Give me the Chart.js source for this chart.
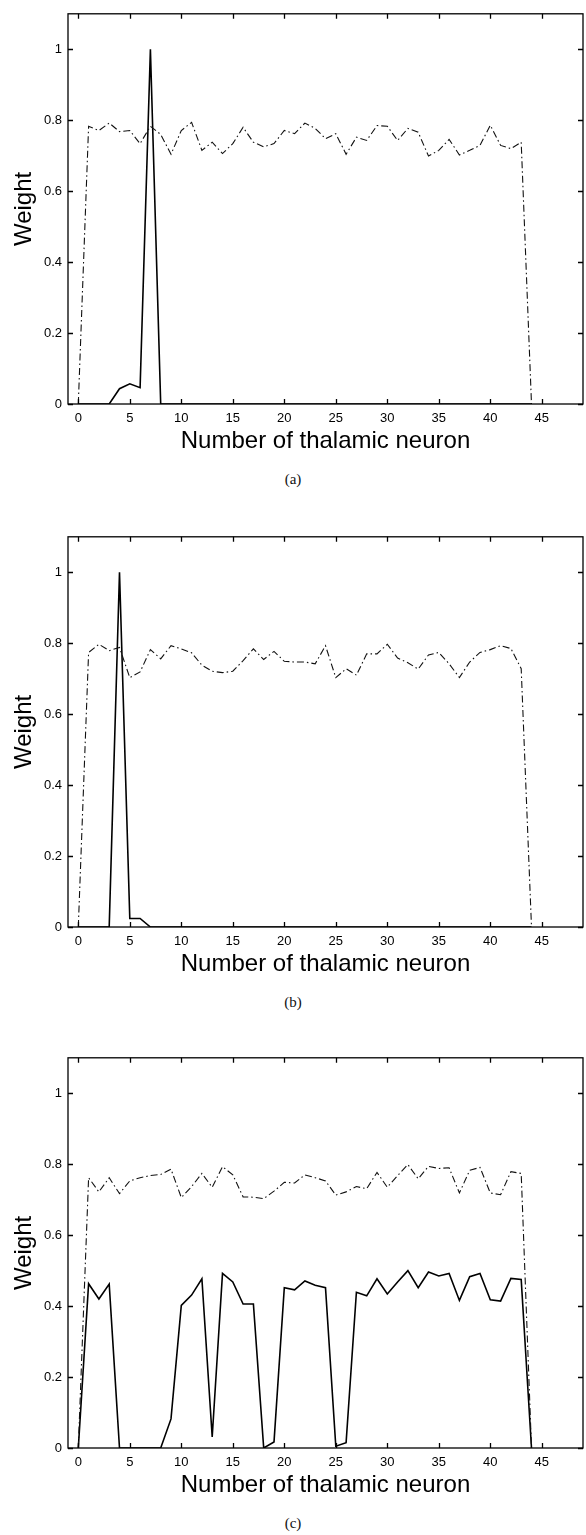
<!DOCTYPE html>
<html>
<head>
<meta charset="utf-8">
<script src="https://cdn.jsdelivr.net/npm/chart.js@4.4.1/dist/chart.umd.min.js"></script>
<style>
  body { margin: 0; background: #fff; }
  #page { position: relative; width: 586px; height: 1535px; overflow: hidden; }
  canvas { position: absolute; left: 0; }
  .cap { position: absolute; left: 0; width: 586px; text-align: center;
         font: 15px "Liberation Serif", "Times New Roman", serif; color: #111; }
</style>
</head>
<body>
<div id="page">
  <canvas id="chartA" width="586" height="460" style="top:0px"></canvas>
  <div class="cap" style="top:471px">(a)</div>
  <canvas id="chartB" width="586" height="460" style="top:523px"></canvas>
  <div class="cap" style="top:994px">(b)</div>
  <canvas id="chartC" width="586" height="460" style="top:1044px"></canvas>
  <div class="cap" style="top:1515px">(c)</div>
</div>
<script>
// thalamic neuron index
var neuron = [0, 1, 2, 3, 4, 5, 6, 7, 8, 9, 10, 11, 12, 13, 14, 15, 16, 17, 18, 19, 20, 21,
  22, 23, 24, 25, 26, 27, 28, 29, 30, 31, 32, 33, 34, 35, 36, 37, 38, 39, 40, 41, 42, 43, 44];

var xTicks = [0, 5, 10, 15, 20, 25, 30, 35, 40, 45];
var yTicks = [0, 0.2, 0.4, 0.6, 0.8, 1];

// (a)
var solidA = [0, 0, 0, 0, 0.043, 0.057, 0.046, 1.0, 0, 0, 0, 0, 0, 0, 0, 0, 0, 0, 0, 0, 0, 0,
  0, 0, 0, 0, 0, 0, 0, 0, 0, 0, 0, 0, 0, 0, 0, 0, 0, 0, 0, 0, 0, 0, 0];
var dashA = [0, 0.783, 0.771, 0.792, 0.768, 0.771, 0.734, 0.783, 0.76, 0.704, 0.771, 0.794,
  0.715, 0.738, 0.706, 0.734, 0.78, 0.738, 0.725, 0.734, 0.771, 0.762, 0.792, 0.777, 0.748,
  0.762, 0.704, 0.752, 0.743, 0.785, 0.783, 0.743, 0.777, 0.766, 0.699, 0.715, 0.746, 0.702,
  0.715, 0.729, 0.786, 0.729, 0.72, 0.738, 0];

// (b)
var solidB = [0, 0, 0, 0, 1.0, 0.024, 0.024, 0, 0, 0, 0, 0, 0, 0, 0, 0, 0, 0, 0, 0, 0, 0,
  0, 0, 0, 0, 0, 0, 0, 0, 0, 0, 0, 0, 0, 0, 0, 0, 0, 0, 0, 0, 0, 0, 0];
var dashB = [0, 0.774, 0.797, 0.779, 0.788, 0.703, 0.719, 0.782, 0.756, 0.793, 0.784, 0.773,
  0.738, 0.721, 0.717, 0.721, 0.751, 0.784, 0.754, 0.777, 0.749, 0.747, 0.747, 0.742, 0.793,
  0.703, 0.728, 0.71, 0.77, 0.77, 0.797, 0.758, 0.745, 0.727, 0.767, 0.774, 0.742, 0.703,
  0.747, 0.774, 0.782, 0.793, 0.785, 0.728, 0];

// (c)
var solidC = [0, 0.463, 0.42, 0.462, 0, 0, 0, 0, 0, 0.082, 0.402, 0.431, 0.477, 0.031, 0.492,
  0.468, 0.406, 0.406, 0, 0.017, 0.452, 0.446, 0.471, 0.459, 0.452, 0.005, 0.015, 0.439, 0.429,
  0.477, 0.434, 0.468, 0.5, 0.452, 0.496, 0.485, 0.492, 0.416, 0.483, 0.492, 0.418, 0.414,
  0.478, 0.475, 0];
var dashC = [0, 0.762, 0.722, 0.762, 0.717, 0.753, 0.762, 0.768, 0.771, 0.786, 0.706, 0.737,
  0.774, 0.735, 0.793, 0.77, 0.708, 0.707, 0.703, 0.724, 0.749, 0.747, 0.77, 0.762, 0.753,
  0.713, 0.722, 0.737, 0.731, 0.777, 0.735, 0.768, 0.799, 0.759, 0.794, 0.788, 0.79, 0.719,
  0.783, 0.791, 0.719, 0.714, 0.779, 0.774, 0];

var axisFont = { family: '"Liberation Sans", Arial, Helvetica, sans-serif', size: 13 };
var titleFont = { family: '"Liberation Sans", Arial, Helvetica, sans-serif', size: 24 };

// box around the plot with inward ticks on all four sides
var frameTicks = {
  id: 'frameTicks',
  afterDatasetsDraw: function (chart) {
    var ctx = chart.ctx, a = chart.chartArea;
    var x = chart.scales.x, y = chart.scales.y;
    ctx.save();
    ctx.strokeStyle = '#000';
    ctx.lineWidth = 1.3;
    ctx.strokeRect(a.left, a.top, a.right - a.left, a.bottom - a.top);
    ctx.beginPath();
    xTicks.forEach(function (v) {
      var px = Math.round(x.getPixelForValue(v)) + 0.5;
      ctx.moveTo(px, a.bottom); ctx.lineTo(px, a.bottom - 5);
      ctx.moveTo(px, a.top); ctx.lineTo(px, a.top + 5);
    });
    yTicks.forEach(function (v) {
      var py = Math.round(y.getPixelForValue(v)) + 0.5;
      ctx.moveTo(a.left, py); ctx.lineTo(a.left + 5, py);
      ctx.moveTo(a.right, py); ctx.lineTo(a.right - 5, py);
    });
    ctx.stroke();
    ctx.restore();
  }
};

function points(ys) {
  return neuron.map(function (n, i) { return { x: n, y: ys[i] }; });
}

function makePanel(id, solid, dashed) {
  return new Chart(document.getElementById(id), {
    type: 'line',
    data: {
      datasets: [{
        data: points(dashed),
        borderColor: '#111',
        borderWidth: 1.1,
        borderDash: [7, 3, 1.5, 3],
        pointRadius: 0,
        tension: 0
      }, {
        data: points(solid),
        borderColor: '#000',
        borderWidth: 1.6,
        pointRadius: 0,
        tension: 0
      }]
    },
    options: {
      responsive: false,
      animation: false,
      layout: { padding: { left: 0, top: 6, right: 3, bottom: 4 } },
      plugins: { legend: { display: false }, tooltip: { enabled: false } },
      scales: {
        x: {
          type: 'linear',
          min: -1,
          max: 49,
          afterFit: function (s) { s.height = 52; },
          afterBuildTicks: function (s) { s.ticks = xTicks.map(function (v) { return { value: v }; }); },
          grid: { display: false, drawTicks: false },
          border: { display: false },
          ticks: { color: '#000', font: axisFont, padding: 7, maxRotation: 0 },
          title: { display: true, text: 'Number of thalamic neuron', color: '#000', font: titleFont, padding: 0 }
        },
        y: {
          min: 0,
          max: 1.1,
          afterFit: function (s) { s.width = 68; },
          afterBuildTicks: function (s) { s.ticks = yTicks.map(function (v) { return { value: v }; }); },
          grid: { display: false, drawTicks: false },
          border: { display: false },
          ticks: {
            color: '#000', font: axisFont, padding: 6,
            callback: function (v) { return String(Math.round(v * 10) / 10); }
          },
          title: { display: true, text: 'Weight', color: '#000', font: titleFont, padding: { top: 10, bottom: 0 } }
        }
      }
    },
    plugins: [frameTicks]
  });
}

makePanel('chartA', solidA, dashA);
makePanel('chartB', solidB, dashB);
makePanel('chartC', solidC, dashC);
</script>
</body>
</html>
